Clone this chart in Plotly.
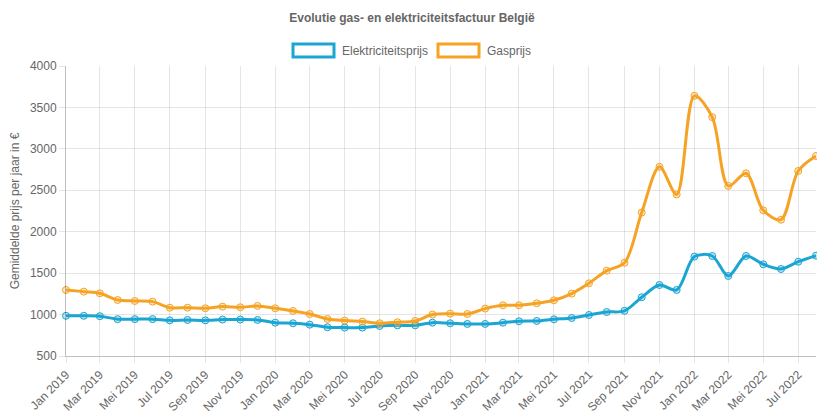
import plotly.graph_objects as go

months = [f"{y}-{m:02d}-01" for y in range(2019, 2023) for m in range(1, 13)][:44]

elektriciteit = [
    985, 985, 980, 945, 945, 945, 930, 935, 930, 940, 940, 935,
    902, 895, 878, 847, 843, 843, 862, 870, 870, 902, 895, 887,
    887, 902, 919, 923, 943, 959, 995, 1031, 1045, 1209, 1357, 1297,
    1700, 1707, 1466, 1707, 1607, 1550, 1638, 1711,
]
gas = [
    1297, 1277, 1257, 1176, 1164, 1156, 1083, 1083, 1076, 1096, 1088, 1104,
    1076, 1043, 1007, 947, 927, 915, 895, 907, 923, 1000, 1011, 1007,
    1072, 1112, 1112, 1136, 1172, 1253, 1377, 1530, 1625, 2231, 2783, 2450,
    3640, 3383, 2553, 2705, 2258, 2145, 2733, 2914,
]

maanden = ["Jan", "Mar", "Mei", "Jul", "Sep", "Nov"]
tick_vals = months[::2]
tick_text = [f"{maanden[i % 6]} {2019 + i // 6}" for i in range(len(tick_vals))]

BLUE = "#1aa5d3"
ORANGE = "#f6a325"
GREY = "#666666"
FONT = "Liberation Sans, Arial, sans-serif"

# the page body has an 8px margin, so the figure is shrunk by that much
OFF = 8
W, H = 825 - OFF, 412 - OFF
# plot area in page pixels (chart.js layout of the original)
PL, PR, PT, PB = 66, 816, 66, 356
L, R, T, B = PL - OFF, 825 - PR, PT - OFF, (412 - PB)
PW, PH = W - L - R, H - T - B


def px(x):
    return (x - OFF - L) / PW


def py(y):
    return (H - B - (y - OFF)) / PH


fig = go.Figure()
for name, values, color, fill in [
    ("Elektriciteitsprijs", elektriciteit, BLUE, "rgba(26,165,211,0.25)"),
    ("Gasprijs", gas, ORANGE, "rgba(246,163,37,0.25)"),
]:
    fig.add_trace(
        go.Scatter(
            x=months,
            y=values,
            name=name,
            mode="lines+markers",
            line=dict(color=color, width=3, shape="spline", smoothing=0.9),
            marker=dict(size=7, color=fill, line=dict(color=color, width=1)),
            cliponaxis=False,
            showlegend=False,
        )
    )

# legend in chart.js style: outlined boxes + labels
legend = [("Elektriciteitsprijs", BLUE, 293, 340), ("Gasprijs", ORANGE, 438, 485)]
for label, color, x0, xt in legend:
    fig.add_shape(
        type="rect", xref="paper", yref="paper",
        x0=px(x0), x1=px(x0 + 41),
        y0=py(57), y1=py(44),
        line=dict(color=color, width=3), fillcolor="white",
    )
    fig.add_annotation(
        text=label, xref="paper", yref="paper",
        x=px(xt), y=py(50.5),
        xanchor="left", yanchor="middle", showarrow=False,
        font=dict(family=FONT, size=12, color=GREY),
    )

fig.update_layout(
    width=W,
    height=H,
    margin=dict(l=L, r=R, t=T, b=B),
    paper_bgcolor="white",
    plot_bgcolor="white",
    font=dict(family=FONT, size=12, color=GREY),
    title=dict(
        text="<b>Evolutie gas- en elektriciteitsfactuur België</b>",
        x=(412 - OFF) / W, xanchor="center", y=1 - 10 / H, yanchor="middle",
        font=dict(family=FONT, size=12, color=GREY),
    ),
    hovermode="x",
)
fig.update_xaxes(
    range=[months[0], months[-1]],
    tickvals=tick_vals,
    ticktext=tick_text,
    tickangle=-45,
    automargin=False,
    showgrid=True,
    gridcolor="rgba(0,0,0,0.1)",
    showline=True,
    linecolor="rgba(0,0,0,0.25)",
    ticks="outside",
    ticklen=6,
    tickcolor="rgba(0,0,0,0.1)",
    tickfont=dict(size=12, color=GREY),
    zeroline=False,
)
fig.update_yaxes(
    range=[500, 4000],
    dtick=500,
    automargin=False,
    showgrid=True,
    gridcolor="rgba(0,0,0,0.1)",
    showline=True,
    linecolor="rgba(0,0,0,0.25)",
    ticks="outside",
    ticklen=6,
    tickcolor="rgba(0,0,0,0.1)",
    tickfont=dict(size=12, color=GREY),
    title=dict(text="Gemiddelde prijs per jaar in €", font=dict(size=12, color=GREY), standoff=14),
    zeroline=False,
)

fig.write_html("out.html")
